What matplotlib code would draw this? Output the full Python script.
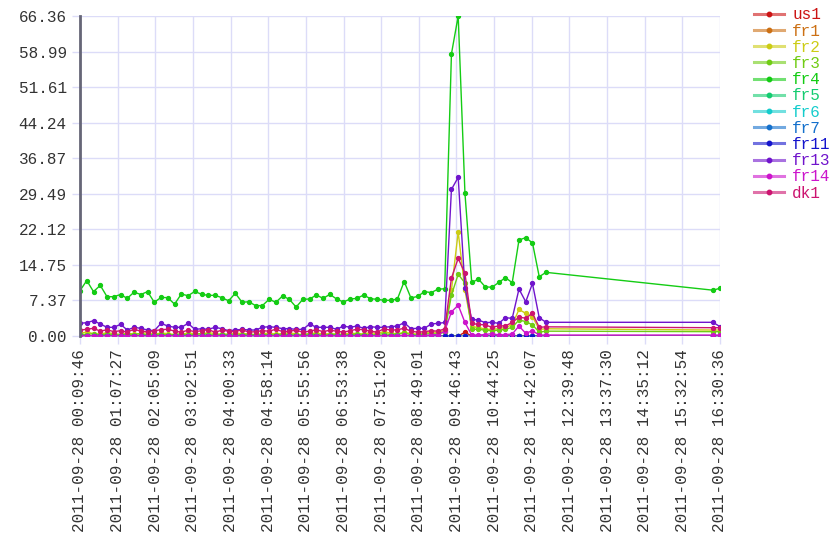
import colorsys
import numpy as np
import pandas as pd
import matplotlib
matplotlib.use("Agg")
import matplotlib.pyplot as plt
import matplotlib.dates as mdates
from matplotlib.lines import Line2D

plt.rcParams['font.family'] = ['Liberation Mono', 'DejaVu Sans Mono']

# sampling times: regular samples in the morning, then two late samples
dense_times = pd.date_range("2011-09-28 00:09:46", periods=70, freq="621s")
tail_times = pd.to_datetime(["2011-09-28 16:19:53", "2011-09-28 16:30:36"])
times = dense_times.append(tail_times)

names = ["us1", "fr1", "fr2", "fr3", "fr4", "fr5", "fr6", "fr7",
         "fr11", "fr13", "fr14", "dk1"]

fr4 = [9.4, 11.5, 9.2, 10.5, 8.15, 8.15, 8.6, 7.8, 9.1, 8.6,
       9.2, 7.0, 8.0, 7.95, 6.6, 8.7, 8.35, 9.25, 8.64, 8.43,
       8.43, 7.95, 7.3, 8.85, 7.0, 7.1, 6.3, 6.3, 7.6, 7.0,
       8.3, 7.6, 6.0, 7.6, 7.67, 8.5, 7.8, 8.64, 7.67, 7.05,
       7.67, 7.8, 8.5, 7.74, 7.6, 7.4, 7.4, 7.67, 11.3, 7.9,
       8.2, 9.2, 9.0, 9.7, 9.8, 58.5, 66.36, 29.6, 11.1, 11.8,
       10.2, 10.1, 11.1, 12.1, 11.05, 19.9, 20.4, 19.3, 12.3, 13.2,
       9.5, 9.9]

fr13 = [2.62, 2.77, 3.17, 2.49, 1.8, 1.8, 2.42, 1.24, 1.8, 1.59,
        1.24, 1.1, 2.62, 2.07, 1.8, 1.8, 2.62, 1.38, 1.5, 1.38,
        1.8, 1.52, 1.1, 1.24, 1.38, 1.24, 1.24, 1.8, 1.93, 1.8,
        1.52, 1.52, 1.38, 1.38, 2.49, 1.8, 1.8, 1.8, 1.38, 2.07,
        1.8, 2.07, 1.59, 1.93, 1.8, 1.8, 1.93, 2.07, 2.77, 1.52,
        1.59, 1.59, 2.49, 2.62, 2.8, 30.4, 32.9, 10.0, 3.45, 3.3,
        2.77, 2.84, 2.62, 3.8, 3.66, 9.74, 7.1, 10.9, 3.8, 2.84,
        2.84, 1.93]

dk1 = [1.2, 1.4, 1.6, 1.0, 1.3, 0.9, 1.1, 0.8, 1.4, 1.0,
       0.9, 1.1, 1.3, 1.4, 1.0, 0.8, 1.2, 0.9, 1.1, 1.3,
       0.8, 1.2, 1.0, 0.9, 1.3, 0.8, 0.9, 1.1, 1.0, 1.4,
       0.9, 1.0, 1.2, 0.8, 1.0, 1.3, 0.9, 1.2, 1.0, 0.8,
       1.1, 1.4, 1.3, 1.0, 0.8, 1.5, 1.2, 1.3, 1.6, 1.0,
       0.8, 0.9, 1.1, 1.0, 1.5, 12.0, 16.1, 13.0, 2.6, 2.4,
       2.3, 1.8, 2.1, 2.1, 2.8, 3.9, 3.7, 4.7, 1.8, 1.9,
       1.72, 1.72]

fr2 = [0.6, 0.8, 0.5, 0.4, 0.7, 0.5, 0.3, 0.6, 0.4, 0.5,
       0.7, 0.4, 0.6, 0.5, 0.3, 0.4, 0.6, 0.5, 0.4, 0.7,
       0.5, 0.3, 0.4, 0.6, 0.5, 0.4, 0.3, 0.5, 0.6, 0.4,
       0.5, 0.7, 0.4, 0.3, 0.5, 0.6, 0.4, 0.5, 0.3, 0.4,
       0.6, 0.5, 0.4, 0.7, 0.5, 0.9, 0.6, 0.4, 0.8, 0.5,
       0.4, 0.6, 0.9, 0.7, 1.2, 9.5, 21.6, 9.5, 1.9, 1.8,
       1.4, 1.4, 1.5, 1.8, 2.3, 5.5, 4.7, 4.0, 1.38, 1.5,
       1.24, 1.24]

fr3 = [0.4, 0.3, 0.5, 0.2, 0.4, 0.3, 0.2, 0.4, 0.3, 0.5,
       0.2, 0.3, 0.4, 0.2, 0.3, 0.4, 0.2, 0.3, 0.5, 0.3,
       0.2, 0.4, 0.3, 0.2, 0.3, 0.4, 0.2, 0.3, 0.3, 0.2,
       0.4, 0.3, 0.2, 0.3, 0.4, 0.3, 0.2, 0.3, 0.4, 0.2,
       0.3, 0.4, 0.3, 0.2, 0.3, 0.5, 0.3, 0.4, 0.6, 0.3,
       0.2, 0.4, 0.5, 0.4, 0.8, 8.5, 12.8, 11.0, 1.4, 1.4,
       1.2, 1.1, 1.2, 1.4, 1.8, 3.3, 3.0, 2.3, 0.8, 1.0,
       0.9, 0.9]

fr14 = [0.0, 0.0, 0.1, 0.0, 0.0, 0.0, 0.0, 0.1, 0.0, 0.0,
        0.0, 0.0, 0.0, 0.1, 0.0, 0.0, 0.0, 0.0, 0.0, 0.0,
        0.1, 0.0, 0.0, 0.0, 0.0, 0.0, 0.0, 0.0, 0.1, 0.0,
        0.0, 0.0, 0.0, 0.0, 0.0, 0.0, 0.0, 0.1, 0.0, 0.0,
        0.0, 0.0, 0.0, 0.0, 0.1, 0.0, 0.0, 0.0, 0.2, 0.0,
        0.0, 0.1, 0.2, 0.3, 1.0, 5.0, 6.4, 2.8, 0.2, 0.2,
        0.3, 0.5, 0.2, 0.3, 0.4, 2.07, 0.55, 1.1, 0.2, 0.2,
        0.2, 0.2]

us1 = [0.0] * 57 + [0.77] + [0.0] * 14
fr1 = [0.0] * 72
fr5 = [0.0] * 72
fr6 = [0.0] * 72
fr7 = [0.0] * 72
fr11 = [0.0] * 72

series = [us1, fr1, fr2, fr3, fr4, fr5, fr6, fr7, fr11, fr13, fr14, dk1]

grid_c = "#dcdcf8"
text_c = "#333333"

fig = plt.figure(figsize=(8.4, 5.6), dpi=100)
ax = fig.add_axes([80 / 840, 1 - 336 / 560, 640 / 840, 320 / 560])

colors = [colorsys.hsv_to_rgb(i * 30 / 360.0, 0.9, 0.8) for i in range(len(names))]

handles = []
for name, vals, c in zip(names, series, colors):
    ax.plot(times, vals, color=c, lw=1, marker="o", markersize=2.8, label=name)
    handles.append(Line2D([0], [0], color=tuple(c) + (0.6,), lw=2.2,
                          marker="o", markersize=3.2, markerfacecolor=c,
                          markeredgecolor=c))

ymax = max(fr4)
ax.set_ylim(0, ymax)
ax.set_yticks(np.linspace(0, ymax, 10))
ax.yaxis.set_major_formatter(plt.FuncFormatter(lambda v, p: "%.2f" % v))

t_start = mdates.date2num(times[0])
t_end = mdates.date2num(times[-1])
ax.set_xlim(t_start, t_end)
ax.set_xticks(np.linspace(t_start, t_end, 18))
ax.xaxis.set_major_formatter(mdates.DateFormatter("%Y-%m-%d %H:%M:%S"))
plt.setp(ax.get_xticklabels(), rotation=90)

ax.grid(True, color=grid_c, lw=1)
ax.set_axisbelow(True)
for s in ["top", "right", "bottom"]:
    ax.spines[s].set_visible(False)
ax.spines["left"].set_color("#666677")
ax.spines["left"].set_linewidth(2)
ax.tick_params(colors=grid_c, labelcolor=text_c, length=6, width=1, labelsize=11.5)

leg = fig.legend(handles, names, loc="upper left", bbox_to_anchor=(0.886, 1.004),
                 frameon=False, fontsize=11.5, handlelength=1.9, handletextpad=0.5,
                 labelspacing=0.075, borderaxespad=0.2)
for txt, c in zip(leg.get_texts(), colors):
    txt.set_color(c)

fig.savefig("out.png", dpi=100)
